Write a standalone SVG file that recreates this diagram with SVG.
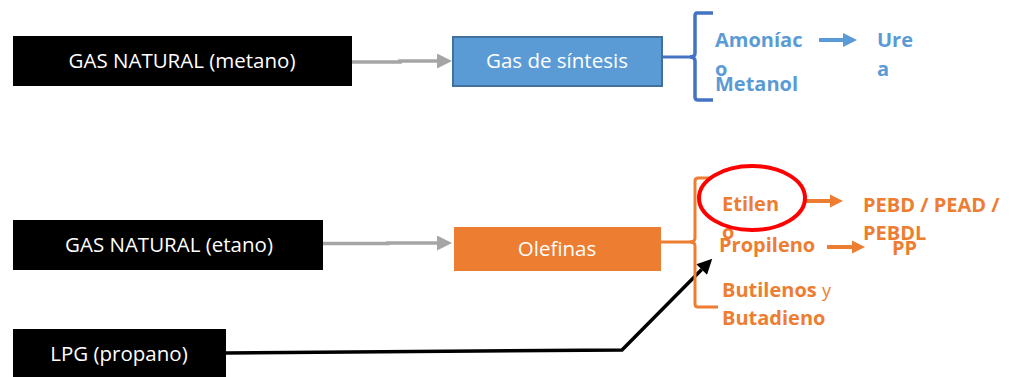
<svg xmlns="http://www.w3.org/2000/svg" width="1010" height="377" viewBox="0 0 1010 377">
<style>
.box-txt{font-family:"Open Sans","Liberation Sans",sans-serif;font-size:20.5px;fill:#fff;text-anchor:middle}
.lbl{font-family:"Open Sans","Liberation Sans",sans-serif;font-size:20px;font-weight:bold}
.blue{fill:#5B9BD5}
.orange{fill:#ED7D31}
.thin{font-weight:normal;font-size:18px}
</style>
<defs>
<marker id="mGray" viewBox="0 0 10 10" refX="0" refY="5" markerUnits="userSpaceOnUse" markerWidth="15" markerHeight="15" orient="auto"><path d="M0,0 L10,5 L0,10 z" fill="#A5A5A5"/></marker>
<marker id="mBlue" viewBox="0 0 10 10" refX="0" refY="5" markerUnits="userSpaceOnUse" markerWidth="14" markerHeight="14" orient="auto"><path d="M0,0 L10,5 L0,10 z" fill="#5B9BD5"/></marker>
<marker id="mOrange" viewBox="0 0 10 10" refX="0" refY="5" markerUnits="userSpaceOnUse" markerWidth="13" markerHeight="14" orient="auto"><path d="M0,0 L10,5 L0,10 z" fill="#ED7D31"/></marker>
<marker id="mBlack" viewBox="0 0 10 10" refX="0" refY="5" markerUnits="userSpaceOnUse" markerWidth="16" markerHeight="15" orient="auto"><path d="M0,0 L10,5 L0,10 z" fill="#000"/></marker>
</defs>
<rect width="1010" height="377" fill="#fff"/>

<g id="connectors" fill="none">
<path d="M352,62 L400,62 L400,61 L437,61" stroke="#A5A5A5" stroke-width="3.5" marker-end="url(#mGray)"/>
<path d="M323,243.5 L388,243.5 L388,243 L437,243" stroke="#A5A5A5" stroke-width="3.5" marker-end="url(#mGray)"/>
<path d="M663,57 L695,57" stroke="#4472C4" stroke-width="3"/>
<path d="M661,242 L693,242" stroke="#ED7D31" stroke-width="3"/>
<path d="M819,40 L843,40" stroke="#5B9BD5" stroke-width="4" marker-end="url(#mBlue)"/>
<path d="M806,201 L830,201" stroke="#ED7D31" stroke-width="4" marker-end="url(#mOrange)"/>
<path d="M827,247 L852,247" stroke="#ED7D31" stroke-width="4" marker-end="url(#mOrange)"/>
<path d="M226,353 L622,350 L701.7,269.4" stroke="#000" stroke-width="3.5" marker-end="url(#mBlack)"/>
</g>

<g id="n-metano">
<rect x="13" y="36" width="339" height="50" fill="#000"/>
<text class="box-txt" x="182" y="68">GAS NATURAL (metano)</text>
</g>

<g id="n-sintesis">
<rect x="453" y="37" width="209" height="49" fill="#5B9BD5" stroke="#41719C" stroke-width="2"/>
<text class="box-txt" x="557" y="68">Gas de síntesis</text>
</g>

<g id="n-etano">
<rect x="13" y="220" width="310" height="50" fill="#000"/>
<text class="box-txt" x="169" y="252">GAS NATURAL (etano)</text>
</g>

<g id="n-olefinas">
<rect x="454" y="227" width="207" height="44" fill="#ED7D31"/>
<text class="box-txt" x="557" y="256">Olefinas</text>
</g>

<g id="n-lpg">
<rect x="13" y="329" width="213" height="48" fill="#000"/>
<text class="box-txt" x="119" y="361">LPG (propano)</text>
</g>

<g id="n-brace-blue">
<path d="M713,13 L697,13 Q695,13 695,16 L695,53 Q695,57 690,57 Q695,57 695,61 L695,97 Q695,100 698,100 L713,100" fill="none" stroke="#4472C4" stroke-width="3.5"/>
</g>

<g id="n-amoniaco">
<text class="lbl blue" x="715" y="47">Amoníac</text>
<text class="lbl blue" x="715" y="76">o</text>
</g>
<g id="n-metanol">
<text class="lbl blue" x="715" y="91">Metanol</text>
</g>
<g id="n-urea">
<text class="lbl blue" x="877" y="47">Ure</text>
<text class="lbl blue" x="877" y="76">a</text>
</g>

<g id="n-brace-orange">
<path d="M712,178 L698,178 Q695,178 695,181 L695,238 Q695,242 690,242 Q695,242 695,246 L695,304 Q695,307 698,307 L718,307" fill="none" stroke="#ED7D31" stroke-width="3"/>
</g>

<g id="n-etileno">
<text class="lbl orange" x="722" y="211">Etilen</text>
<text class="lbl orange" x="722" y="239">o</text>
<ellipse cx="752" cy="198" rx="53" ry="32" fill="none" stroke="#FF0000" stroke-width="4"/>
</g>
<g id="n-pebd">
<text class="lbl orange" x="863" y="212">PEBD / PEAD /</text>
<text class="lbl orange" x="863" y="240">PEBDL</text>
</g>
<g id="n-propileno">
<text class="lbl orange" x="719" y="252">Propileno</text>
</g>
<g id="n-pp">
<text class="lbl orange" x="892" y="255">PP</text>
</g>
<g id="n-butilenos">
<text class="lbl orange" x="722" y="297">Butilenos <tspan class="thin">y</tspan></text>
<text class="lbl orange" x="722" y="325">Butadieno</text>
</g>
</svg>
